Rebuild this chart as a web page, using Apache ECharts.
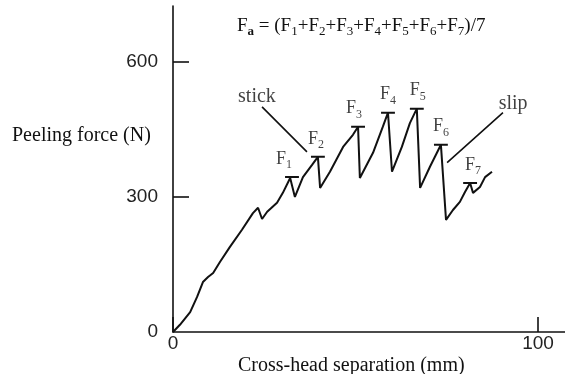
<!DOCTYPE html>
<html>
<head>
<meta charset="utf-8">
<script src="https://cdn.jsdelivr.net/npm/echarts@6/dist/echarts.min.js"></script>
<style>
  html, body { margin: 0; padding: 0; background: #fff; }
  #chart { width: 565px; height: 374px; }
</style>
</head>
<body>
<div id="chart"></div>
<script>
// Peeling test trace: cross-head separation (mm) vs peeling force (N)
const separation = [0, 1.9, 4.7, 6.6, 8.2, 9.6, 11.0, 12.9, 15.6, 18.9, 21.9, 23.3, 24.4, 25.8, 28.5,
  30.1, 32.1, 32.6, 33.4, 35.6, 38.1, 39.7, 40.3, 43.0, 46.6, 49.3, 50.7, 51.2, 54.8, 57.5,
  58.9, 60.0, 62.7, 64.9, 66.8, 67.7, 70.4, 73.4, 74.8, 76.7, 78.6, 80.0, 81.4, 82.2, 84.1,
  85.5, 87.4];
const peelForce = [0, 16, 44, 78, 111, 122, 131, 156, 189, 227, 264, 276, 251, 267, 287,
  309, 342, 344, 300, 344, 371, 389, 320, 356, 411, 438, 456, 342, 398, 456,
  487, 356, 411, 464, 496, 320, 367, 416, 249, 271, 289, 311, 331, 309, 322,
  344, 356];

// Stick peaks F1..F7
const peakNames = ['1', '2', '3', '4', '5', '6', '7'];
const peakSep = [32.6, 39.7, 50.7, 58.9, 66.8, 73.4, 81.4];
const peakForce = [344, 389, 456, 487, 496, 416, 331];

// Annotation leaders and their words
const stickLeader = [[24.4, 500], [36.7, 400]];
const slipLeader = [[75.1, 376], [90.4, 487]];
const notes = [
  { text: 'stick', at: [23.0, 522] },
  { text: 'slip', at: [93.2, 507] }
];

// Axis ticks
const yTicks = [0, 300, 600];
const xTicks = [0, 100];

const SERIF = '"Liberation Serif", "Times New Roman", serif';
const SANS = '"Liberation Sans", Arial, sans-serif';
const INK = '#111';

const capHalf = 1.9;                 // half-width of a peak cap, in mm
const labelShift = [-8, -2, -4, 0, 1, 0, 3];

const curve = separation.map((x, i) => [x, peelForce[i]]);

const caps = [];
peakSep.forEach((x, i) => {
  caps.push([x - capHalf, peakForce[i]], [x + capHalf, peakForce[i]], [null, null]);
});

const leaders = [...stickLeader, [null, null], ...slipLeader];

const chart = echarts.init(document.getElementById('chart'), null, { renderer: 'canvas' });

chart.setOption({
  animation: false,
  backgroundColor: '#fff',
  grid: { left: 173, right: 0, top: 6, bottom: 42 },
  xAxis: {
    type: 'value', min: 0, max: 107.4,
    splitLine: { show: false },
    axisLine: { lineStyle: { color: INK, width: 1.6 } },
    axisTick: { inside: true, length: 15, customValues: xTicks, lineStyle: { color: INK, width: 1.6 } },
    axisLabel: { customValues: xTicks, margin: 2, color: '#222', fontFamily: SANS, fontSize: 19 }
  },
  yAxis: {
    type: 'value', min: 0, max: 724,
    splitLine: { show: false },
    axisLine: { show: true, lineStyle: { color: INK, width: 1.6 } },
    axisTick: { show: true, inside: true, length: 16, customValues: yTicks.filter(v => v > 0), lineStyle: { color: INK, width: 1.6 } },
    axisLabel: { customValues: yTicks, margin: 15, color: '#222', fontFamily: SANS, fontSize: 19 }
  },
  series: [
    {
      type: 'line', data: curve, showSymbol: false, silent: true,
      lineStyle: { color: INK, width: 2 }
    },
    {
      type: 'line', data: caps, showSymbol: false, silent: true, connectNulls: false,
      lineStyle: { color: INK, width: 2 }
    },
    {
      type: 'line', data: leaders, showSymbol: false, silent: true, connectNulls: false,
      lineStyle: { color: INK, width: 1.6 }
    },
    {
      type: 'scatter', symbolSize: 0, silent: true,
      data: peakSep.map((x, i) => ({
        value: [x, peakForce[i]],
        name: peakNames[i],
        label: { offset: [labelShift[i], 0] }
      })),
      label: {
        show: true, position: 'top', distance: 6,
        formatter: p => '{f|F}{s|' + p.name + '}',
        rich: {
          f: { fontFamily: SERIF, fontSize: 18, color: INK, lineHeight: 24 },
          s: { fontFamily: SERIF, fontSize: 12, color: INK, lineHeight: 12, verticalAlign: 'bottom' }
        }
      }
    },
    {
      type: 'scatter', symbolSize: 0, silent: true,
      data: notes.map(n => ({ value: n.at, name: n.text })),
      label: {
        show: true, position: 'inside', formatter: p => p.name,
        fontFamily: SERIF, fontSize: 20, color: INK
      }
    }
  ],
  graphic: [
    {
      type: 'text', left: 12, top: 126,
      style: { text: 'Peeling force (N)', font: '20px ' + SERIF, fill: INK }
    },
    {
      type: 'text', left: 238, top: 356,
      style: { text: 'Cross-head separation (mm)', font: '20px ' + SERIF, fill: INK }
    },
    {
      type: 'text', left: 237, top: 17,
      style: {
        text: '{m|F}{b|a}{m| = (F}{s|1}{m|+F}{s|2}{m|+F}{s|3}{m|+F}{s|4}{m|+F}{s|5}{m|+F}{s|6}{m|+F}{s|7}{m|)/7}',
        rich: {
          m: { fontFamily: SERIF, fontSize: 19, fill: INK, lineHeight: 24 },
          b: { fontFamily: SERIF, fontSize: 13, fontWeight: 'bold', fill: INK, lineHeight: 13, verticalAlign: 'bottom' },
          s: { fontFamily: SERIF, fontSize: 13, fill: INK, lineHeight: 13, verticalAlign: 'bottom' }
        }
      }
    }
  ]
});
</script>
</body>
</html>
